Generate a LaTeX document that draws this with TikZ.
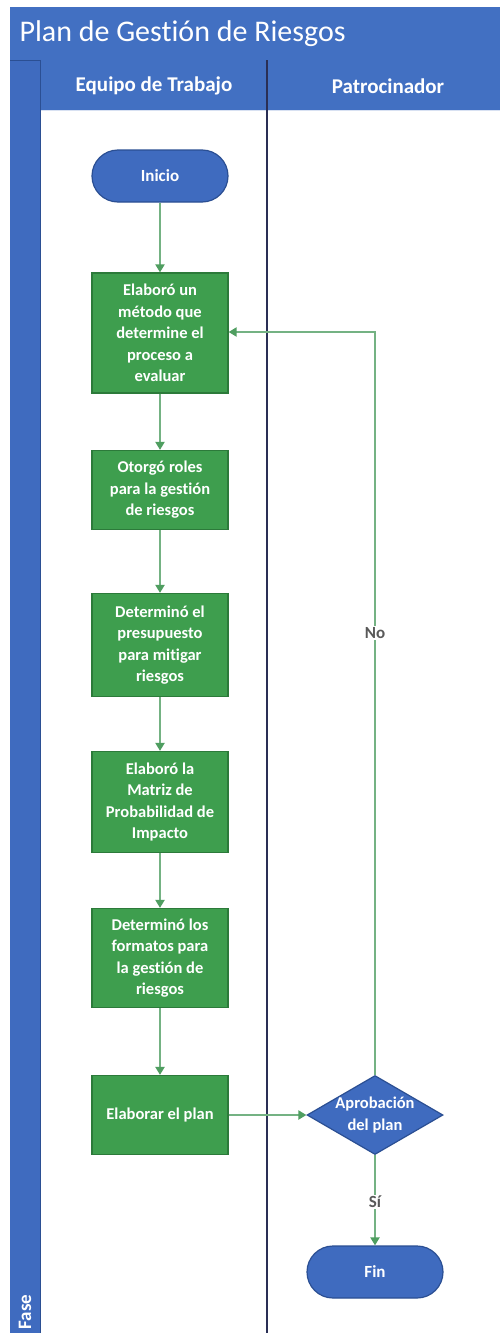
\documentclass[tikz,border=0pt]{standalone}
\usepackage{fontspec}
\setmainfont{Carlito}[Ligatures=NoCommon]
\usetikzlibrary{shapes.geometric,arrows.meta}
\definecolor{laneblue}{HTML}{3F6BBF}
\definecolor{headblue}{HTML}{4270C2}
\definecolor{darkblue}{HTML}{2B4F93}
\definecolor{stepgreen}{HTML}{3E9E4E}
\definecolor{stepedge}{HTML}{2C7A3A}
\definecolor{linkgreen}{HTML}{74B283}
\definecolor{tipgreen}{HTML}{4F9E60}
\definecolor{divider}{HTML}{2A2F55}
\tikzset{
  stepbox/.style={draw=stepedge, line width=1.2pt, fill=stepgreen, text=white,
    minimum width=136pt, align=center, font=\fontsize{16.5}{21.5}\selectfont\bfseries, inner sep=1pt},
  terminal/.style={draw=darkblue, line width=1.2pt, fill=laneblue, text=white, rounded corners=26pt,
    minimum width=136pt, minimum height=52pt, font=\fontsize{17}{20}\selectfont\bfseries},
  decision/.style={draw=darkblue, line width=1.2pt, fill=laneblue, diamond, aspect=1.72,
    minimum width=136pt, minimum height=79pt, inner sep=0pt},
  decisiontext/.style={text=white, align=center, font=\fontsize{16.5}{21.5}\selectfont\bfseries},
  link/.style={draw=linkgreen, line width=2.2pt, -{Triangle[length=8pt,width=9pt,color=tipgreen]}},
  linklabel/.style={fill=white, text=black!65, font=\fontsize{17}{19}\selectfont\bfseries, inner sep=1pt}
}
\begin{document}
\begin{tikzpicture}[x=1pt, y=-1pt]
\useasboundingbox (0,0) rectangle (500,1333);
% pool frame
\fill[white] (0,0) rectangle (500,1333);
\fill[laneblue] (10,7) rectangle (500,1333);
\fill[headblue] (10,7) rectangle (500,60);
\draw[darkblue, line width=0.8pt] (10,60) -- (500,60);
% lane headers
\fill[headblue] (40,60) rectangle (500,110);
\draw[darkblue, line width=0.8pt] (40,60) -- (40,110);
\draw[white!80!laneblue, line width=1pt] (40,110) -- (500,110);
% lane bodies
\fill[white] (41,111) rectangle (500,1333);
\draw[divider, line width=1.6pt] (267,60) -- (267,1333);
\draw[darkblue, line width=1pt] (40,110) -- (40,1333);
% texts of the frame
\node[anchor=west, text=white, font=\fontsize{30}{32}\selectfont] (title) at (16,34) {Plan de Gestión de Riesgos};
\node[text=white, font=\fontsize{21}{23}\selectfont\bfseries] (lane1) at (154,86) {Equipo de Trabajo};
\node[text=white, font=\fontsize{21}{23}\selectfont\bfseries] (lane2) at (388,86) {Patrocinador};
\node[text=white, rotate=90, anchor=west, font=\fontsize{19}{21}\selectfont\bfseries] (fase) at (25,1333) {Fase};
% flow nodes
\node[terminal] (inicio) at (160,176) {Inicio};
\node[stepbox, minimum height=120pt] (s1) at (160,333) {Elaboró un\\método que\\determine el\\proceso a\\evaluar};
\node[stepbox, minimum height=79pt] (s2) at (160,490) {Otorgó roles\\para la gestión\\de riesgos};
\node[stepbox, minimum height=103pt] (s3) at (160,645) {Determinó el\\presupuesto\\para mitigar\\riesgos};
\node[stepbox, minimum height=101pt] (s4) at (160,802) {Elaboró la\\Matriz de\\Probabilidad de\\Impacto};
\node[stepbox, minimum height=99pt] (s5) at (160,958) {Determinó los\\formatos para\\la gestión de\\riesgos};
\node[stepbox, minimum height=79pt] (s6) at (160,1115) {Elaborar el plan};
\node[decision] (dec) at (375,1115) {};
\node[decisiontext] (dectext) at (dec.center) {Aprobación\\del plan};
\node[terminal] (fin) at (375,1272) {Fin};
\coordinate (back) at (375,332);
% connectors
\draw[link] (inicio) -- (s1);
\draw[link] (s1) -- (s2);
\draw[link] (s2) -- (s3);
\draw[link] (s3) -- (s4);
\draw[link] (s4) -- (s5);
\draw[link] (s5) -- (s6);
\draw[link] (s6) -- (dec);
\draw[link] (dec.north) -- (back) -- (s1.east |- back);
\node[linklabel] (nolabel) at (375,633) {No};
\draw[link] (dec) -- (fin);
\node[linklabel] (silabel) at (375,1202) {Sí};
\end{tikzpicture}
\end{document}
